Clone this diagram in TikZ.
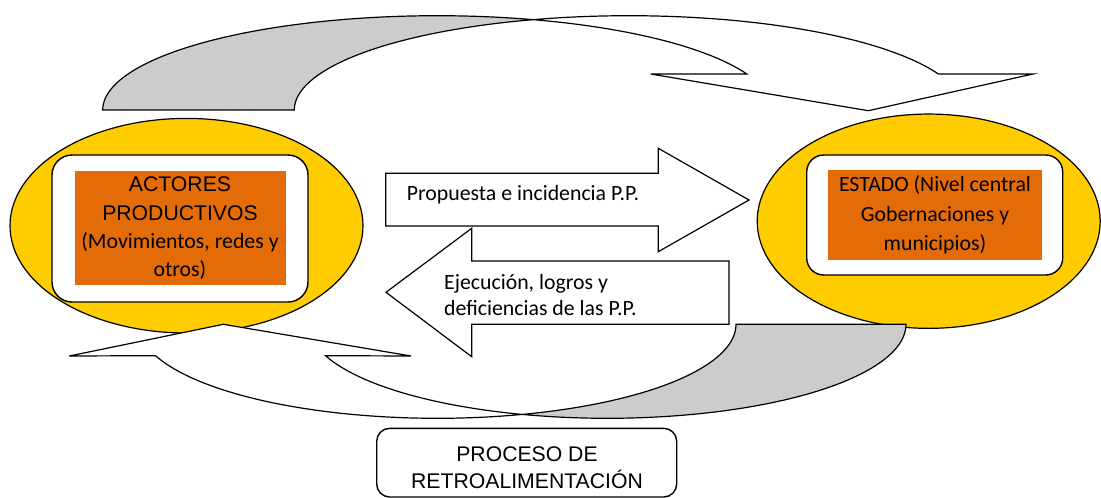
\documentclass[tikz,border=0pt]{standalone}
\usepackage{fontspec}
\setmainfont{Carlito}
\newfontfamily\arialf{Liberation Sans}
\usetikzlibrary{shapes.geometric}
\definecolor{ellyellow}{HTML}{FFCC00}
\definecolor{boxorange}{HTML}{E36C09}
\definecolor{shadegray}{HTML}{CCCCCC}
\begin{document}
\begin{tikzpicture}[x=1pt,y=-1pt,
  ln/.style={draw=black,line width=1.2pt,line join=miter},
  ell/.style={ellipse,draw=black,line width=1.2pt,fill=ellyellow,inner sep=0pt},
  rbox/.style={draw=black,line width=1.4pt,fill=white,rounded corners=#1,inner sep=0pt},
  obox/.style={fill=boxorange,inner sep=0pt},
  cal/.style={font=\fontsize{21.8}{26}\selectfont,inner sep=0pt},
  ari/.style={font=\arialf\fontsize{21.2}{26}\selectfont,inner sep=0pt}]
\useasboundingbox (0,0) rectangle (1101,498);

% top curved arrow (back, shaded part)
\path[ln,fill=shadegray]
  plot[domain=180:73.37,samples=60] ({437.4+334.7*cos(\x)},{110-94.3*sin(\x)})
  -- plot[domain=106.63:180,samples=60] ({629+334.7*cos(\x)},{110-94.3*sin(\x)})
  -- cycle;
% top curved arrow (front part with head)
\path[ln,fill=white]
  plot[domain=106.63:22.47,samples=60] ({629+334.7*cos(\x)},{110-94.3*sin(\x)})
  -- (1033,74) -- (868.3,110.7) -- (650.7,74)
  -- plot[domain=22.47:73.37,samples=60] ({437.4+334.7*cos(\x)},{110-94.3*sin(\x)})
  -- cycle;

% ellipses
\node[ell,minimum width=353pt,minimum height=214.6pt] (actE) at (186.5,225.7) {};
\node[ell,minimum width=343pt,minimum height=214.3pt] (estE) at (928.7,221.2) {};

% rounded white boxes and orange boxes
\node[rbox=20pt,minimum width=256pt,minimum height=147pt] (actB) at (180,228.5) {};
\node[obox,minimum width=211pt,minimum height=114.3pt] (actO) at (180.5,227.85) {};
\node[rbox=17pt,minimum width=256pt,minimum height=120pt] (estB) at (934.7,215) {};
\node[obox,minimum width=214.3pt,minimum height=90pt] (estO) at (934.85,215) {};

\node[ari,anchor=base] (t1) at (180,191.7) {ACTORES};
\node[ari,anchor=base] (t2) at (180,220) {PRODUCTIVOS};
\node[cal,anchor=base] (t3) at (180,248.3) {(Movimientos, redes y};
\node[cal,anchor=base] (t4) at (180,276.7) {otros)};

\node[cal,anchor=base] (e1) at (935,191.7) {ESTADO (Nivel central};
\node[cal,anchor=base] (e2) at (935,221) {Gobernaciones y};
\node[cal,anchor=base] (e3) at (935,250.7) {municipios)};

% straight block arrows
\draw[ln,fill=white] (385.7,173.3) -- (658.3,173.3) -- (658.3,148.3) -- (749,200)
  -- (658.3,251.7) -- (658.3,226) -- (385.7,226) -- cycle;
\draw[ln,fill=white] (729,261) -- (471.7,261) -- (471.7,228.3) -- (386,292.3)
  -- (471.7,356.7) -- (471.7,324.3) -- (729,324.3) -- cycle;
\node[cal,anchor=base west] (p1) at (406.7,200) {Propuesta e incidencia P.P.};
\node[cal,anchor=base west] (j1) at (444,289) {Ejecución, logros y};
\node[cal,anchor=base west] (j2) at (444,315.7) {deficiencias de las P.P.};

% bottom curved arrow (back, shaded part)
\path[ln,fill=shadegray]
  plot[domain=0:106.53,samples=60] ({607.2+298.8*cos(\x)},{324.3+94*sin(\x)})
  -- plot[domain=73.47:0,samples=60] ({437.2+298.8*cos(\x)},{324.3+94*sin(\x)})
  -- cycle;
% bottom curved arrow (front part with head)
\path[ln,fill=white]
  plot[domain=73.47:160.5,samples=60] ({437.2+298.8*cos(\x)},{324.3+94*sin(\x)})
  -- (69.3,356) -- (223.3,324.3) -- (411,356)
  -- plot[domain=160.5:106.53,samples=60] ({607.2+298.8*cos(\x)},{324.3+94*sin(\x)})
  -- cycle;

% bottom label box
\node[rbox=13pt,minimum width=300pt,minimum height=68.7pt] (proc) at (526.7,462.65) {};
\node[ari,anchor=base] (r1) at (527,461.7) {PROCESO DE};
\node[ari,anchor=base] (r2) at (527,488.3) {RETROALIMENTACIÓN};
\end{tikzpicture}
\end{document}
